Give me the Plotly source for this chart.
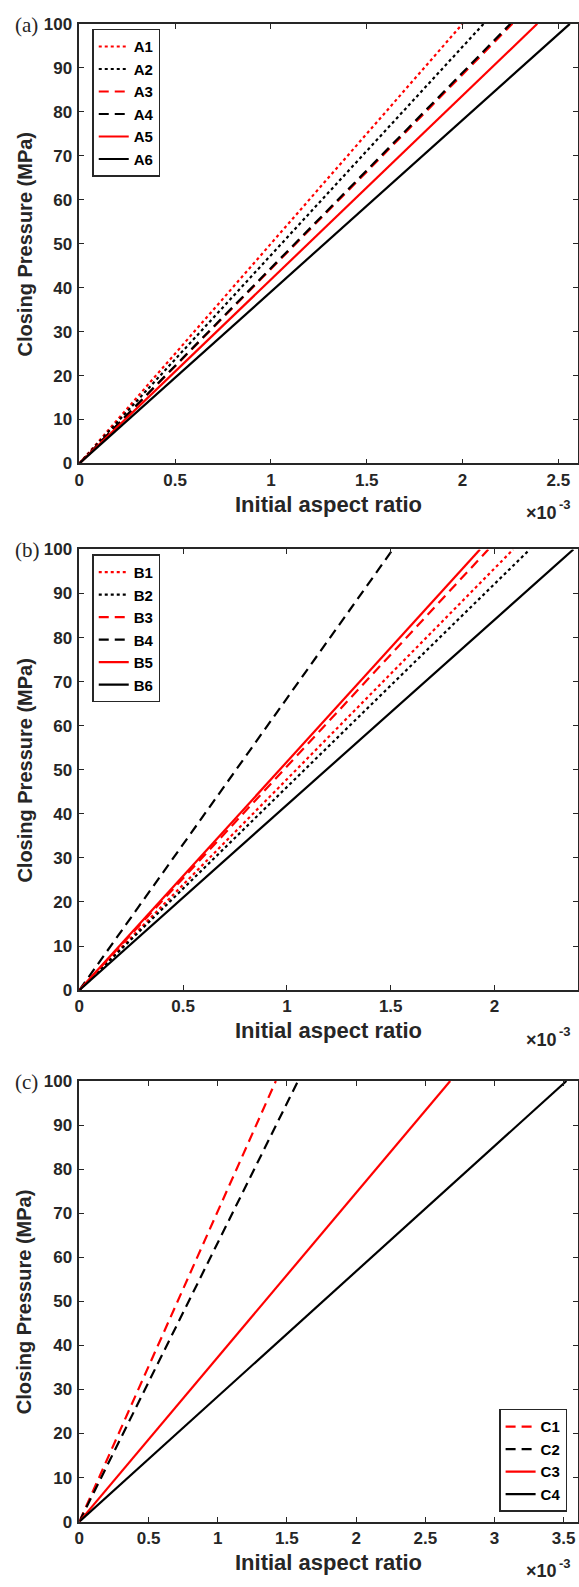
import plotly.graph_objects as go

# ---------------- data (aspect ratio in units of 1e-3, pressure in MPa) ----------------
pressure = [0, 100]

# panel (a)
A1 = [0, 2.00]
A2 = [0, 2.11]
A3 = [0, 2.26]
A4 = [0, 2.25]
A5 = [0, 2.39]
A6 = [0, 2.56]

# panel (b)
B1 = [0, 2.09]
B2 = [0, 2.17]
B3 = [0, 1.97]
B4 = [0, 1.51]
B5 = [0, 1.93]
B6 = [0, 2.38]

# panel (c)
C1 = [0, 1.42]
C2 = [0, 1.58]
C3 = [0, 2.68]
C4 = [0, 3.52]

xticks_a = [0, 0.5, 1, 1.5, 2, 2.5]
xticks_b = [0, 0.5, 1, 1.5, 2]
xticks_c = [0, 0.5, 1, 1.5, 2, 2.5, 3, 3.5]
yticks = [0, 10, 20, 30, 40, 50, 60, 70, 80, 90, 100]

# ---------------- layout helpers ----------------
W, H = 579, 1587
def fx(px):
    return px / W
def fy(py):
    return 1 - py / H

LEFT, RIGHT = 75, 577.5
panels = {
    "a": (15, 460, 2.6, xticks_a),
    "b": (547, 993, 2.4, xticks_b),
    "c": (1085, 1531, 3.6, xticks_c),
}

RED = "#FF0000"
BLACK = "#000000"
DASH = "10px,6px"
FONT = "Liberation Sans, Arial, sans-serif"
AXC = "#262626"

fig = go.Figure()

series = [
    ("a", "A1", A1, RED, "dot", "legend"),
    ("a", "A2", A2, BLACK, "dot", "legend"),
    ("a", "A3", A3, RED, DASH, "legend"),
    ("a", "A4", A4, BLACK, DASH, "legend"),
    ("a", "A5", A5, RED, "solid", "legend"),
    ("a", "A6", A6, BLACK, "solid", "legend"),
    ("b", "B1", B1, RED, "dot", "legend2"),
    ("b", "B2", B2, BLACK, "dot", "legend2"),
    ("b", "B3", B3, RED, DASH, "legend2"),
    ("b", "B4", B4, BLACK, DASH, "legend2"),
    ("b", "B5", B5, RED, "solid", "legend2"),
    ("b", "B6", B6, BLACK, "solid", "legend2"),
    ("c", "C1", C1, RED, DASH, "legend3"),
    ("c", "C2", C2, BLACK, DASH, "legend3"),
    ("c", "C3", C3, RED, "solid", "legend3"),
    ("c", "C4", C4, BLACK, "solid", "legend3"),
]
axmap = {"a": ("x", "y"), "b": ("x2", "y2"), "c": ("x3", "y3")}

for pan, name, xs, col, dash, leg in series:
    xa, ya = axmap[pan]
    fig.add_trace(go.Scatter(
        x=xs, y=pressure, mode="lines", name=name,
        line=dict(color=col, width=2.2, dash=dash),
        xaxis=xa, yaxis=ya, legend=leg,
    ))

tickfont = dict(family=FONT, size=17, color=AXC, weight="bold")
xtitlefont = dict(family=FONT, size=22, color=AXC, weight="bold")
ytitlefont = dict(family=FONT, size=20, color=AXC, weight="bold")

annotations = []
for i, (pan, (top, bot, xmax, xt)) in enumerate(panels.items()):
    sfx = "" if i == 0 else str(i + 1)
    common = dict(
        showline=True, linecolor=AXC, linewidth=1.5, mirror="ticks",
        ticks="inside", ticklen=5, tickwidth=1.2, tickcolor=AXC,
        showgrid=False, zeroline=False, tickfont=tickfont,
    )
    fig.layout["xaxis" + sfx] = dict(
        domain=[fx(LEFT), fx(RIGHT)], range=[0, xmax], tickvals=xt,
        ticktext=[f"{v:g}" for v in xt], anchor="y" + sfx, **common,
    )
    fig.layout["yaxis" + sfx] = dict(
        domain=[fy(bot), fy(top)], range=[0, 100], tickvals=yticks,
        anchor="x" + sfx, ticklabelstandoff=2, **common,
    )
    # axis titles
    annotations.append(dict(
        text="Initial aspect ratio", xref="paper", yref="paper",
        x=fx((LEFT + RIGHT) / 2), y=fy(bot + 41), xanchor="center", yanchor="middle",
        showarrow=False, font=xtitlefont,
    ))
    annotations.append(dict(
        text="Closing Pressure (MPa)", xref="paper", yref="paper",
        x=fx(20), y=fy((top + bot) / 2), xanchor="center", yanchor="middle",
        textangle=-90, showarrow=False, font=ytitlefont,
    ))
    # exponent label: "×10" with raised "-3"
    annotations.append(dict(
        text="×10", xref="paper", yref="paper",
        x=fx(559), y=fy(bot + 50), xanchor="right", yanchor="middle",
        showarrow=False, font=dict(family=FONT, size=18, color=AXC, weight="bold"),
    ))
    annotations.append(dict(
        text="-3", xref="paper", yref="paper",
        x=fx(557), y=fy(bot + 42), xanchor="left", yanchor="middle",
        showarrow=False, font=dict(family=FONT, size=13, color=AXC, weight="bold"),
    ))
    annotations.append(dict(
        text=f"({pan})", xref="paper", yref="paper",
        x=fx(8), y=fy(top + 1), xanchor="left", yanchor="middle",
        showarrow=False, font=dict(family="Liberation Serif, Times New Roman, serif", size=21, color=AXC),
    ))

legstyle = dict(
    bgcolor="white", bordercolor=AXC, borderwidth=1.5,
    font=dict(family=FONT, size=15, color=BLACK, weight="bold"),
    tracegroupgap=0, itemwidth=30,
)
fig.update_layout(
    width=W, height=H, margin=dict(l=0, r=0, t=0, b=0),
    paper_bgcolor="white", plot_bgcolor="white",
    showlegend=True,
    legend=dict(x=fx(88), y=fy(20), xanchor="left", yanchor="top", **legstyle),
    legend2=dict(x=fx(88), y=fy(552), xanchor="left", yanchor="top", **legstyle),
    legend3=dict(x=fx(567), y=fy(1521), xanchor="right", yanchor="bottom", **legstyle),
    annotations=annotations,
)

fig.write_html("out.html")
